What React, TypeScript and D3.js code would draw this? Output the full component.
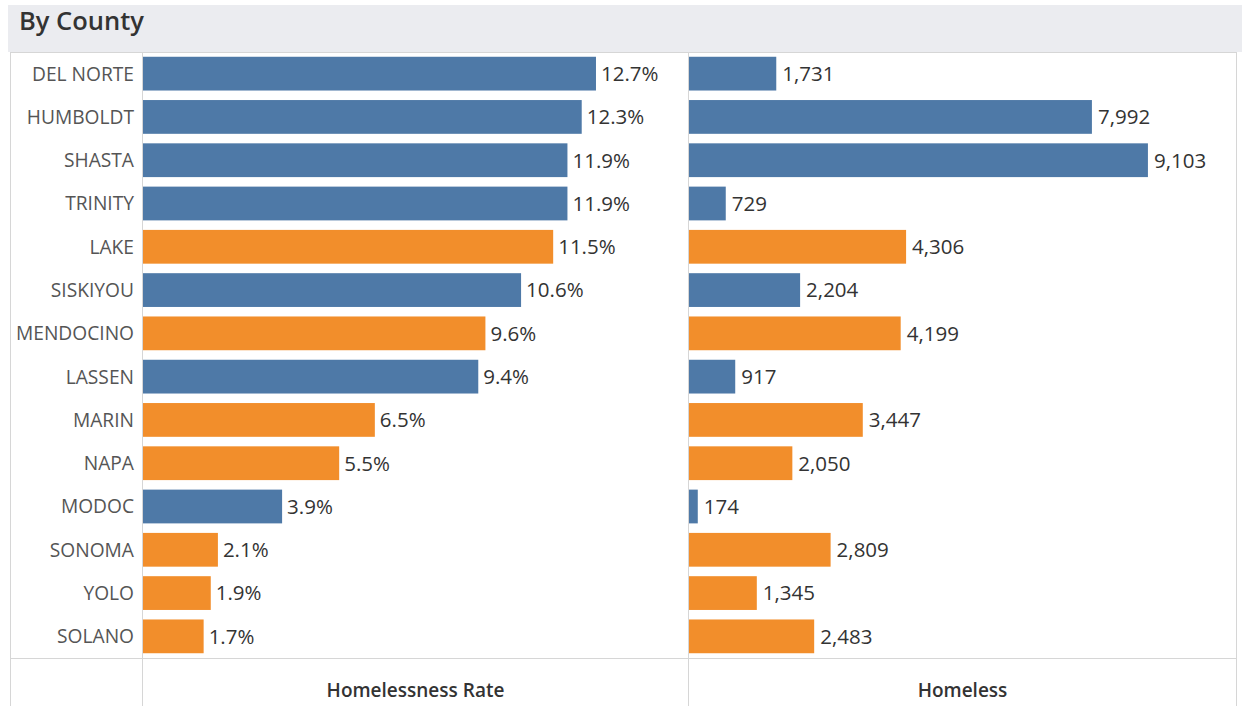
import React from "react";
import * as d3 from "d3";

const counties = ["DEL NORTE","HUMBOLDT","SHASTA","TRINITY","LAKE","SISKIYOU","MENDOCINO","LASSEN","MARIN","NAPA","MODOC","SONOMA","YOLO","SOLANO"];
const rates = [12.7,12.3,11.9,11.9,11.5,10.6,9.6,9.4,6.5,5.5,3.9,2.1,1.9,1.7];
const homeless = [1731,7992,9103,729,4306,2204,4199,917,3447,2050,174,2809,1345,2483];
const groups = ["a","a","a","a","b","a","b","a","b","b","a","b","b","b"];

const W = 1242, H = 706;
const FONT = "'Open Sans', Lato, sans-serif";
const colorScale = d3.scaleOrdinal<string, string>().domain(["a","b"]).range(["#4e79a7","#f28e2b"]);

export default function App() {
  const top = 52, bottom = 658;
  const y = d3.scaleBand().domain(counties).range([top, bottom]).paddingInner(0.22).paddingOuter(0.11);
  const x1 = d3.scaleLinear().domain([0, 15.28]).range([143, 688]);
  const x2 = d3.scaleLinear().domain([0, 10850]).range([689, 1236]);
  const fmt = d3.format(",");
  const lineC = "#d6d6d6";
  return (
    <svg width={W} height={H} style={{ position: "absolute", left: 0, top: 0, background: "#fff" }} fontFamily={FONT}>
      <rect x={8} y={5} width={W - 8} height={top - 5} fill="#ebecf0" />
      <text x={19} y={30} fontSize={25.5} fontWeight={600} fill="#333">By County</text>
      {/* frame */}
      <line x1={10.5} x2={10.5} y1={top} y2={H} stroke={lineC} />
      <line x1={1236.5} x2={1236.5} y1={top} y2={H} stroke={lineC} />
      <line x1={10} x2={1237} y1={top + 0.5} y2={top + 0.5} stroke={lineC} />
      <line x1={10} x2={1237} y1={bottom + 0.5} y2={bottom + 0.5} stroke={lineC} />
      <line x1={142.5} x2={142.5} y1={top} y2={H} stroke={lineC} />
      <line x1={688.5} x2={688.5} y1={top} y2={H} stroke={lineC} />
      {counties.map((c, i) => {
        const yy = y(c)!;
        const bh = y.bandwidth();
        const cy = yy + bh / 2;
        const col = colorScale(groups[i]);
        return (
          <g key={c}>
            <text x={134} y={cy} dy="0.36em" textAnchor="end" fontSize={19.2} fill="#555">{c}</text>
            <rect x={x1(0)} y={yy} width={x1(rates[i]) - x1(0)} height={bh} fill={col} />
            <text x={x1(rates[i]) + 5} y={cy} dy="0.36em" fontSize={20.5} fill="#333">{rates[i].toFixed(1)}%</text>
            <rect x={x2(0)} y={yy} width={x2(homeless[i]) - x2(0)} height={bh} fill={col} />
            <text x={x2(homeless[i]) + 6} y={cy} dy="0.36em" fontSize={20.5} fill="#333">{fmt(homeless[i])}</text>
          </g>
        );
      })}
      <text x={(143 + 688) / 2} y={697} textAnchor="middle" fontSize={19} fontWeight={600} fill="#333">Homelessness Rate</text>
      <text x={(689 + 1236) / 2} y={697} textAnchor="middle" fontSize={19} fontWeight={600} fill="#333">Homeless</text>
    </svg>
  );
}
